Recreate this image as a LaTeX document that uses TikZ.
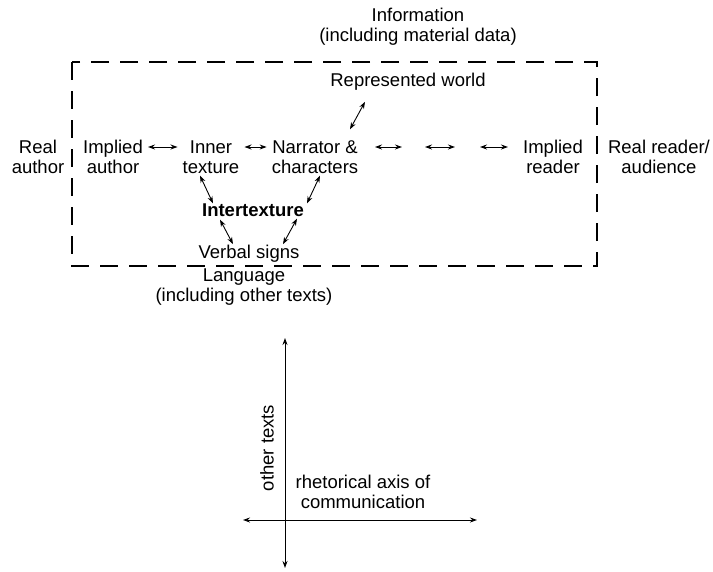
\documentclass[tikz,border=0pt]{standalone}
\usepackage{fontspec}
\setmainfont{Liberation Sans}
\usetikzlibrary{arrows.meta,positioning,calc}

\begin{document}
\begin{tikzpicture}[
		x=1pt, y=-1pt,
		> = {Stealth[length=7pt,width=5pt]},
		every node/.style={font=\fontsize{18.5}{20}\selectfont, align=center, inner sep=1pt},
		frame/.style={draw, line width=1.4pt, dash pattern=on 18pt off 11pt},
		link/.style={<->, line width=0.9pt, shorten >=4pt, shorten <=4pt},
		slant/.style={shorten >=0pt, shorten <=0pt},
		axis/.style={<->, line width=0.9pt}
		]
		\useasboundingbox (0,0) rectangle (713,571);
		% the frame of the text
		\draw[frame] (72,62) rectangle (597,266);
		\node at (418,27) (info) {Information\\(including material data)};
		\node at (408,82) (world) {Represented world};
		\node at (38,157) (rauth) {Real\\author};
		\node at (113,157) (iauth) {Implied\\author};
		\node at (211,157) (inner) {Inner\\texture};
		\node at (315,157) (narr) {Narrator \&\\characters};
		\node at (553,157) (ireader) {Implied\\reader};
		\node at (659,157) (rreader) {Real reader/\\audience};
		\node at (253,210) (inter) {\bfseries Intertexture};
		\node at (249,254) (verbal) {Verbal signs};
		\node at (244,287) (lang) {Language\\(including other texts)};
		% free arrows towards the implied reader
		\coordinate (r1a) at (371,147); \coordinate (r1b) at (406,147);
		\coordinate (r2a) at (421,147); \coordinate (r2b) at (459,147);
		\coordinate (r3a) at (476,147); \coordinate (r3b) at (512,147);
		% Draw the arrows
		\path[link]
		([yshift=10pt]iauth.east) edge ([yshift=10pt]inner.west)
		([yshift=10pt]inner.east) edge ([yshift=10pt]narr.west)
		(r1a) edge (r1b)
		(r2a) edge (r2b)
		(r3a) edge (r3b)
		([xshift=-43pt,yshift=-10pt]world.south) edge[slant] ([xshift=35pt,yshift=10pt]narr.north)
		([xshift=-11pt,yshift=-1pt]inner.south) edge[slant] ([xshift=-40pt,yshift=-1pt]inter.north)
		([xshift=5pt,yshift=-1pt]narr.south) edge[slant] ([xshift=54pt,yshift=-1pt]inter.north)
		([xshift=-33pt,yshift=-2pt]inter.south) edge[slant] ([xshift=-16pt]verbal.north)
		([xshift=44pt,yshift=-1pt]inter.south) edge[slant] ([xshift=34pt]verbal.north);
		% the axes below
		\coordinate (o) at (285,520);
		\coordinate (up) at (285,338);
		\coordinate (down) at (285,568);
		\coordinate (left) at (243,520);
		\coordinate (right) at (477,520);
		\draw[axis] (up) -- (down);
		\draw[axis] (left) -- (right);
		\node[rotate=90] at (267,448) (other) {other texts};
		\node at (363,492) (rhet) {rhetorical axis of\\communication};
	\end{tikzpicture}
\end{document}
